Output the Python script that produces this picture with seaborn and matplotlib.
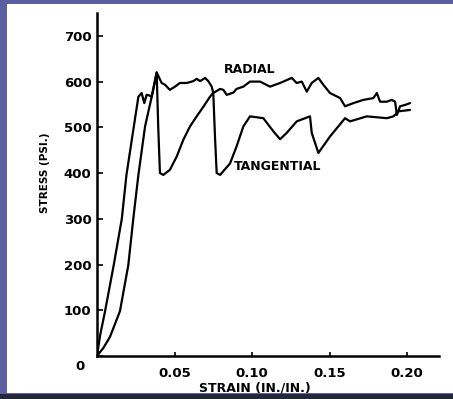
import numpy as np
import pandas as pd
import seaborn as sns
import matplotlib.pyplot as plt
from matplotlib.patches import Rectangle
from matplotlib.transforms import ScaledTranslation

# values
radial_strain = [0, 0.002, 0.0052, 0.0108, 0.016, 0.019, 0.0234, 0.0267, 0.0288, 0.0305,
                 0.032, 0.0335, 0.0353, 0.0385, 0.0417, 0.0439, 0.047, 0.0503, 0.0535, 0.0579,
                 0.0621, 0.0643, 0.0665, 0.0697, 0.0718, 0.074, 0.075, 0.0794, 0.0815, 0.0837,
                 0.088, 0.09, 0.0944, 0.0987, 0.1052, 0.1116, 0.1181, 0.1256, 0.1288, 0.1321,
                 0.1353, 0.1385, 0.1428, 0.146, 0.1503, 0.1568, 0.16, 0.1654, 0.1718, 0.1783,
                 0.1805, 0.1826, 0.1869, 0.1901, 0.1923, 0.1934, 0.1955, 0.1987, 0.2019]
radial_stress = [0, 45, 98, 199, 300, 396, 494, 567, 575, 553,
                 571, 570, 567, 620, 597, 593, 582, 589, 597, 597,
                 601, 606, 601, 608, 601, 589, 575, 584, 582, 571,
                 576, 584, 589, 600, 600, 589, 597, 608, 597, 600,
                 578, 597, 608, 593, 575, 564, 546, 553, 560, 564,
                 575, 556, 556, 560, 556, 527, 546, 549, 553]

tang_strain = [0, 0.0042, 0.0084, 0.0148, 0.0202, 0.0234, 0.0267, 0.031, 0.0353, 0.0385,
               0.0395, 0.0406, 0.0428, 0.047, 0.0514, 0.0557, 0.06, 0.0643, 0.0686, 0.0729,
               0.075, 0.0761, 0.0772, 0.0794, 0.0858, 0.09, 0.0944, 0.0987, 0.1073, 0.1138,
               0.1181, 0.1224, 0.1288, 0.1374, 0.1385, 0.1428, 0.1503, 0.16, 0.1632, 0.174,
               0.1869, 0.1912, 0.1944, 0.2019]
tang_stress = [0, 18, 42, 98, 199, 300, 396, 502, 567, 620,
               500, 400, 396, 407, 436, 473, 502, 524, 545, 567,
               576, 480, 400, 396, 421, 458, 502, 524, 520, 491,
               474, 488, 513, 524, 488, 444, 480, 520, 513, 524,
               520, 524, 535, 538]

y_ticks = [0, 100, 200, 300, 400, 500, 600, 700]
x_ticks = [0.05, 0.10, 0.15, 0.20]
x_ticklabels = ["0.05", "0.10", "0.15", "0.20"]

df = pd.concat([
    pd.DataFrame({"strain": radial_strain, "stress": radial_stress, "curve": "RADIAL"}),
    pd.DataFrame({"strain": tang_strain, "stress": tang_stress, "curve": "TANGENTIAL"}),
], ignore_index=True)

sns.set_style("ticks")
plt.rcParams["font.family"] = ["DejaVu Sans"]
for k in ["text.color", "axes.labelcolor", "xtick.color", "ytick.color"]:
    plt.rcParams[k] = "black"

fig = plt.figure(figsize=(4.53, 3.99), dpi=100)
fig.patch.set_facecolor("#5b5e9f")
# white slide area behind the chart, dark strip at the bottom
fig.add_artist(Rectangle((7 / 453, 6 / 399), 1, 389 / 399, transform=fig.transFigure,
                         facecolor="white", edgecolor="none", zorder=-5))
fig.add_artist(Rectangle((0, 0), 1, 5 / 399, transform=fig.transFigure,
                         facecolor="#26263a", edgecolor="none", zorder=-4))
ax = fig.add_axes([97 / 453, 43 / 399, 342 / 453, 343 / 399])
ax.set_zorder(2)
ax.set_facecolor("none")

sns.lineplot(data=df, x="strain", y="stress", hue="curve", units="curve",
             palette={"RADIAL": "black", "TANGENTIAL": "black"},
             estimator=None, sort=False, linewidth=1.6, legend=False, ax=ax)

ax.set_xlim(0, 0.2206)
ax.set_ylim(0, 750)
sns.despine(ax=ax)
for s in ["left", "bottom"]:
    ax.spines[s].set_linewidth(1.8)
    ax.spines[s].set_color("black")

ax.set_yticks(y_ticks)
ax.set_xticks(x_ticks)
ax.set_xticklabels(x_ticklabels)
ax.tick_params(axis="y", direction="in", length=4, width=1.2, pad=4, labelsize=9.5)
ax.tick_params(axis="x", direction="in", length=3, width=1.2, pad=8, labelsize=9.5)
for lab in ax.get_xticklabels() + ax.get_yticklabels():
    lab.set_fontweight("bold")
# the zero label sits a little below and left of the others in the original
zero = ax.yaxis.get_major_ticks()[0].label1
zero.set_transform(zero.get_transform() + ScaledTranslation(-7 / 100, -9 / 100, fig.dpi_scale_trans))

ax.set_xlabel("STRAIN (IN./IN.)", fontsize=9, fontweight="bold")
ax.set_ylabel("STRESS (PSI.)", fontsize=7.5, fontweight="bold")
ax.xaxis.set_label_coords(0.462, -0.075)
ax.yaxis.set_label_coords(-0.137, 0.534)

ax.text(0.0987, 626, "RADIAL", fontsize=9, fontweight="bold", ha="center", va="center")
ax.text(0.1168, 414, "TANGENTIAL", fontsize=9, fontweight="bold", ha="center", va="center")

fig.savefig("out.png", dpi=100, facecolor=fig.get_facecolor())
